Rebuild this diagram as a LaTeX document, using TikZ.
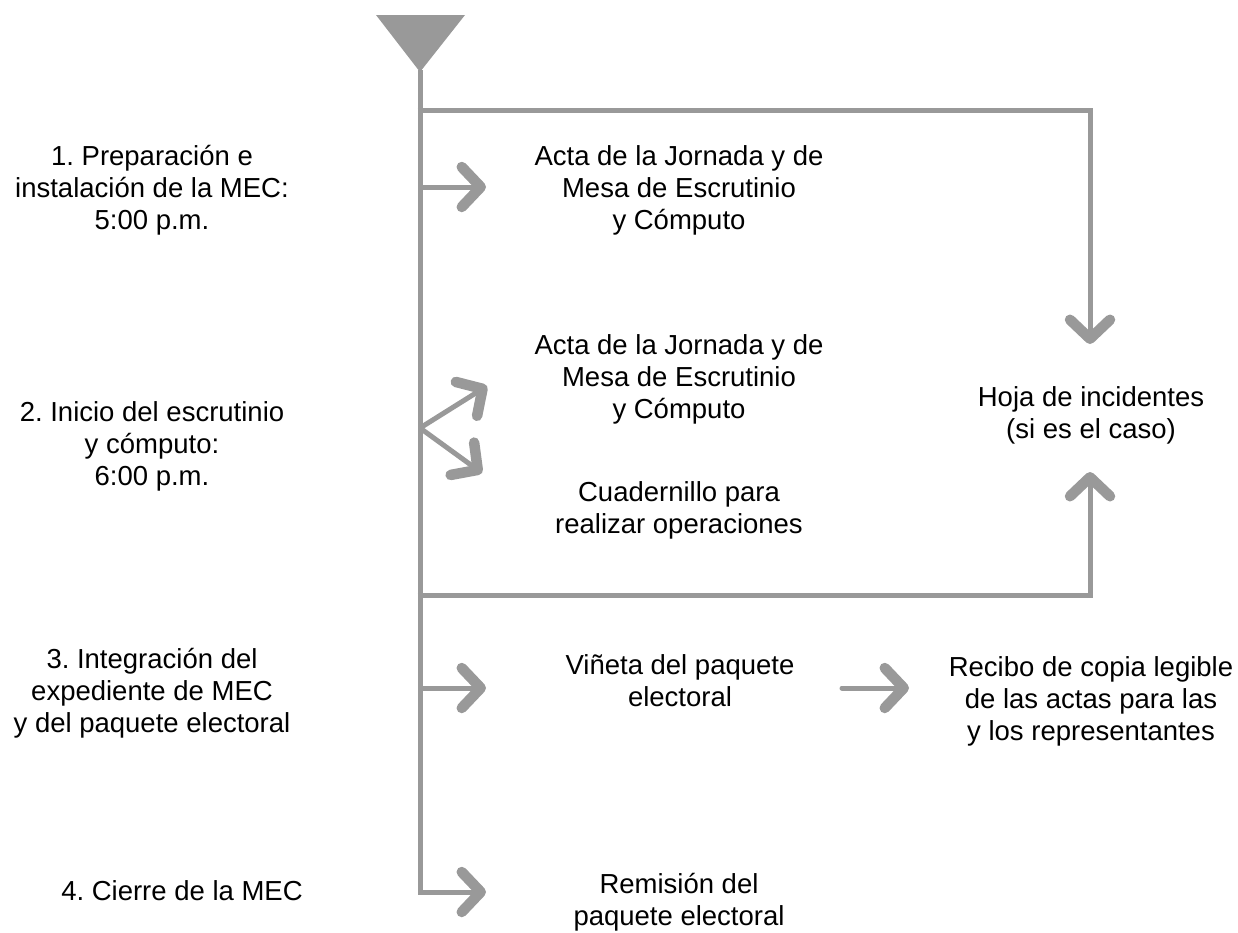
\documentclass[tikz,border=0pt]{standalone}
\usepackage{fontspec}
\setmainfont{Liberation Sans}
\usetikzlibrary{arrows.meta}
\definecolor{linegray}{HTML}{999999}
\frenchspacing
\tikzset{
  conn/.style={draw=linegray, line width=5pt},
  barb/.tip={Straight Barb[length=19pt,width=40pt,line width=10.5pt,round]},
  chev/.style={conn, -barb},
  lbl/.style={align=center, font=\fontsize{27.5}{32}\selectfont, inner sep=0pt, text=black},
}
\begin{document}
\begin{tikzpicture}[x=1pt,y=-1pt]
\useasboundingbox (0,0) rectangle (1238,932);
% triangle
\fill[linegray] (376,15) -- (465,15) -- (420,72) -- cycle;
% labels left
\node[lbl] (l1) at (152,190) {1. Preparación e\\instalación de la MEC:\\5:00 p.m.};
\node[lbl] (l2) at (152,446) {2. Inicio del escrutinio\\y cómputo:\\6:00 p.m.};
\node[lbl] (l3) at (152,693) {3. Integración del\\expediente de MEC\\y del paquete electoral};
\node[lbl] (l4) at (182,891) {4. Cierre de la MEC};
% middle
\node[lbl] (a1) at (679,190) {Acta de la Jornada y de\\Mesa de Escrutinio\\y Cómputo};
\node[lbl] (a2) at (679,379) {Acta de la Jornada y de\\Mesa de Escrutinio\\y Cómputo};
\node[lbl] (cu) at (679,510) {Cuadernillo para\\realizar operaciones};
\node[lbl] (vi) at (680,681) {Viñeta del paquete\\electoral};
\node[lbl] (re) at (679,902) {Remisión del\\paquete electoral};
% right
\node[lbl] (ho) at (1091,415) {Hoja de incidentes\\(si es el caso)};
\node[lbl] (rc) at (1091,701) {Recibo de copia legible\\de las actas para las\\y los representantes};
% coordinates
\coordinate (top) at (420,70);
\coordinate (b0) at (420,110);
\coordinate (c0) at (1090,110);
\coordinate (t0) at (1090,344);
\coordinate (b1) at (420,187);
\coordinate (t1) at (486,187);
\coordinate (b2) at (420,428);
\coordinate (t2a) at (487,386);
\coordinate (t2b) at (482,473);
\coordinate (b5) at (420,595);
\coordinate (c5) at (1090,595);
\coordinate (t5) at (1090,472);
\coordinate (b3) at (420,688);
\coordinate (t3) at (486,688);
\coordinate (b4) at (420,892);
\coordinate (t4) at (486,892);
\coordinate (s6) at (842,688);
\coordinate (t6) at (909,688);
% spine
\draw[conn] (top) -- ([yshift=-2.5pt]b4.center);
% branches
\draw[chev, line join=miter] ([xshift=-2.5pt]b0) -- (c0) -- (t0);
\draw[chev] (b1) -- (t1);
\draw[chev] (b2) -- (t2a);
\draw[chev] (b2) -- (t2b);
\draw[chev, line join=miter] ([xshift=-2.5pt]b5) -- (c5) -- (t5);
\draw[chev] (b3) -- (t3);
\draw[chev, line join=miter] ([yshift=-2.5pt]b4) -- (b4) -- (t4);
\draw[chev, line cap=round] (s6) -- (t6);
\end{tikzpicture}
\end{document}
